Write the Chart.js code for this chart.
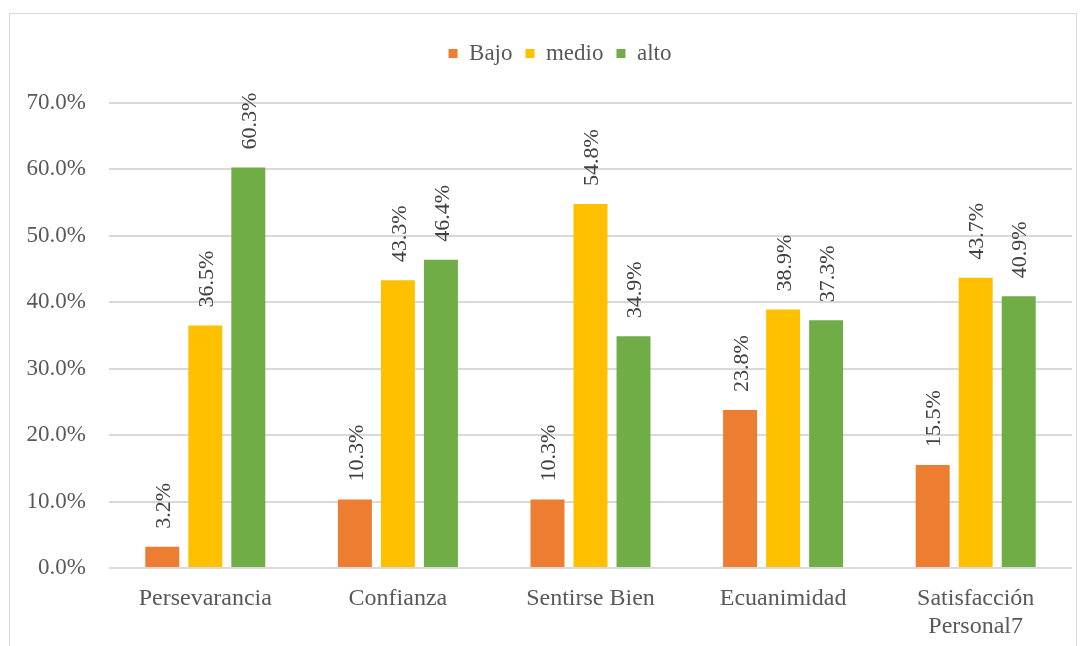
<!DOCTYPE html>
<html>
<head>
<meta charset="utf-8">
<script src="https://cdn.jsdelivr.net/npm/chart.js@4.4.1/dist/chart.umd.min.js"></script>
<style>
    body { margin: 0; background: #fff; }
    .chart-box {
        position: absolute; left: 9px; top: 13px;
        width: 1068px; height: 640px;
        border: 1px solid #d9d9d9; box-sizing: border-box;
    }
</style>
</head>
<body>
<div class="chart-box"><canvas id="resilienceChart"></canvas></div>
<script>
// 데이터
const categories = ['Persevarancia', 'Confianza', 'Sentirse Bien', 'Ecuanimidad', ['Satisfacción', 'Personal7']];
const bajo = [3.2, 10.3, 10.3, 23.8, 15.5];
const medio = [36.5, 43.3, 54.8, 38.9, 43.7];
const alto = [60.3, 46.4, 34.9, 37.3, 40.9];
const yTicks = [0, 10, 20, 30, 40, 50, 60, 70];

const serif = '"Liberation Serif", "Times New Roman", serif';

// 막대 위 세로 라벨
const verticalLabels = {
    id: 'verticalLabels',
    afterDatasetsDraw(chart) {
        const ctx = chart.ctx;
        ctx.save();
        ctx.font = '22px ' + serif;
        ctx.fillStyle = '#404040';
        ctx.textAlign = 'left';
        ctx.textBaseline = 'middle';
        chart.data.datasets.forEach((ds, i) => {
            chart.getDatasetMeta(i).data.forEach((bar, j) => {
                ctx.save();
                ctx.translate(bar.x + 2, bar.y - 18);
                ctx.rotate(-Math.PI / 2);
                ctx.fillText(ds.data[j].toFixed(1) + '%', 0, 0);
                ctx.restore();
            });
        });
        ctx.restore();
    }
};

// 범례 아래 여백 + 가로 위치
const legendGap = {
    id: 'legendGap',
    beforeInit(chart) {
        const origFit = chart.legend.fit;
        chart.legend.fit = function() {
            origFit.bind(chart.legend)();
            this.height += 28;
        };
    },
    afterLayout(chart) {
        chart.legend.left += 19;
        chart.legend.right += 19;
    }
};

new Chart(document.getElementById('resilienceChart'), {
    type: 'bar',
    data: {
        labels: categories,
        datasets: [
            { label: 'Bajo', data: bajo, backgroundColor: '#ED7D31' },
            { label: 'medio', data: medio, backgroundColor: '#FFC000' },
            { label: 'alto', data: alto, backgroundColor: '#70AD47' }
        ]
    },
    options: {
        responsive: true,
        maintainAspectRatio: false,
        animation: false,
        datasets: { bar: { categoryPercentage: 0.67, barPercentage: 0.79 } },
        layout: { padding: { top: 15, right: 4, bottom: 0, left: 0 } },
        plugins: {
            legend: {
                position: 'top',
                labels: {
                    boxWidth: 9, boxHeight: 9, padding: 13,
                    color: '#595959',
                    font: { family: serif, size: 23 }
                }
            },
            tooltip: { enabled: false }
        },
        scales: {
            x: {
                grid: { display: false },
                border: { display: false },
                ticks: { color: '#595959', padding: 8, maxRotation: 0, font: { family: serif, size: 24 } },
                afterFit(scale) { scale.height = 84; }
            },
            y: {
                min: 0, max: 70,
                afterBuildTicks(scale) { scale.ticks = yTicks.map(v => ({ value: v })); },
                grid: { color: '#d9d9d9', lineWidth: 2, drawTicks: false },
                border: { display: false },
                ticks: {
                    color: '#595959', padding: 23,
                    font: { family: serif, size: 23 },
                    callback: v => v.toFixed(1) + '%'
                },
                afterFit(scale) { scale.width = 99; }
            }
        }
    },
    plugins: [verticalLabels, legendGap]
});
</script>
</body>
</html>
